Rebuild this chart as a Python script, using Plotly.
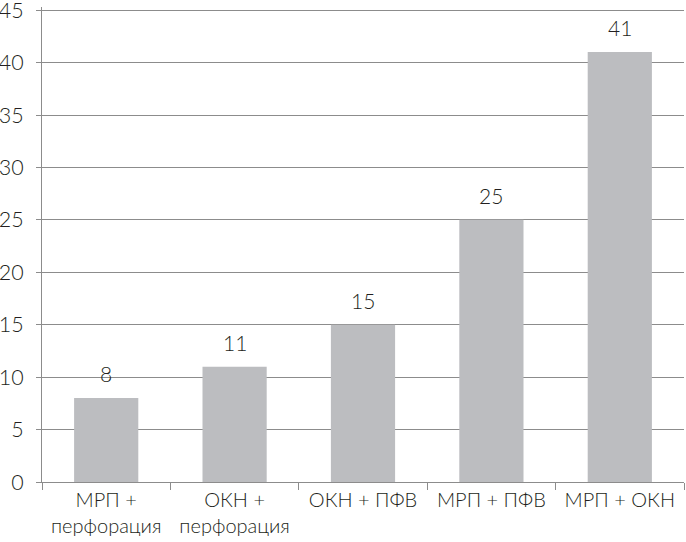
import plotly.graph_objects as go

categories = ["МРП +<br>перфорация", "ОКН +<br>перфорация", "ОКН + ПФВ", "МРП + ПФВ", "МРП + ОКН"]
values = [8, 11, 15, 25, 41]
y_ticks = [0, 5, 10, 15, 20, 25, 30, 35, 40, 45]

FONT = "Lato"
TXT = "#231f20"
GRID = "#8c8c8c"

fig = go.Figure()
fig.add_trace(go.Bar(x=categories, y=values, marker=dict(color="#bcbdc0", line=dict(width=0)),
                     hoverinfo="skip"))

for c, v in zip(categories, values):
    fig.add_annotation(x=c, y=v, text=str(v), showarrow=False, yanchor="bottom",
                       yshift=10, font=dict(family=FONT, size=21, color=TXT, weight=300))

fig.update_layout(
    width=686, height=542,
    margin=dict(l=42, r=2, t=7, b=60, autoexpand=False),
    paper_bgcolor="white", plot_bgcolor="white",
    bargap=0.5, showlegend=False,
    font=dict(family=FONT, size=20, color=TXT, weight=300),
)
fig.update_xaxes(type="category", tickson="boundaries", ticks="outside", ticklen=7,
                 tickcolor=GRID, showline=True, linecolor=GRID, linewidth=1, automargin=False,
                 showgrid=False, tickfont=dict(family=FONT, size=20, color=TXT, weight=300))
fig.update_yaxes(range=[0, 45.3], tickvals=y_ticks, ticks="outside", ticklen=5, tickcolor=GRID,
                 showline=True, linecolor=GRID, linewidth=1, showgrid=True, gridcolor=GRID,
                 gridwidth=1, zeroline=False, automargin=False, ticklabeloverflow="allow",
                 ticklabelstandoff=8,
                 tickfont=dict(family=FONT, size=21.5, color=TXT, weight=300))

fig.write_html("out.html", config={"displayModeBar": False},
               post_script="document.body.style.margin='0';")
